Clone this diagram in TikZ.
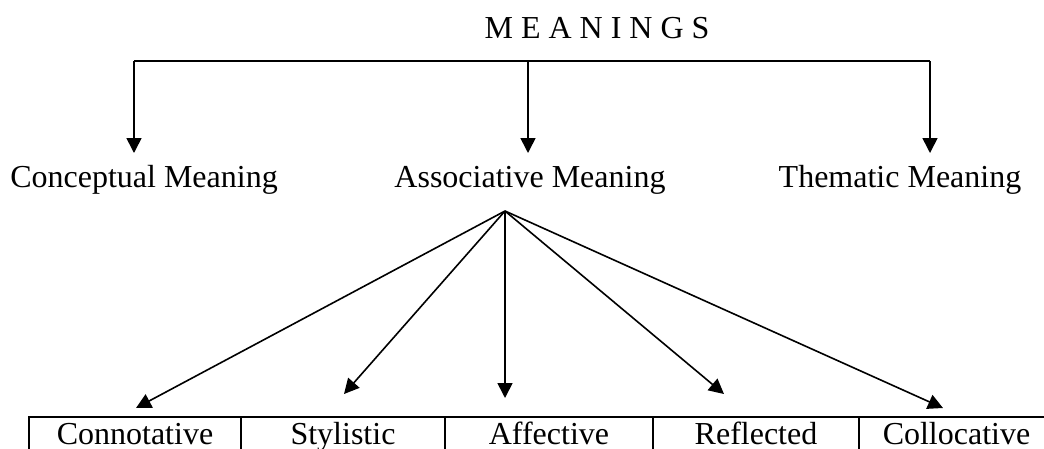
\documentclass[tikz,border=0pt]{standalone}
\usepackage{fontspec}
\setmainfont{Liberation Serif}
\usetikzlibrary{arrows.meta}

\begin{document}
\begin{tikzpicture}[x=1pt, y=-1pt, line width=1.6pt,
  every node/.style={font=\fontsize{32}{38}\selectfont},
  arr/.style={-{Triangle[length=15pt,width=15pt]}},
  kind/.style={inner sep=0pt, outer sep=12pt, text height=22pt, text depth=7pt},
  cell/.style={draw, line width=1.8pt, anchor=north, minimum height=45pt,
    inner sep=0pt, text height=22pt, text depth=11pt}]
\clip (0,0) rectangle (1044,448);

% top level
\node (title) at (597,28) {M E A N I N G S};
\node[kind] (concept) at (144,179.5) {Conceptual Meaning};
\node[kind] (assoc) at (530,179.5) {Associative Meaning};
\node[kind] (thematic) at (900,179.5) {Thematic Meaning};

\coordinate (barL) at (134,61);
\coordinate (barM) at (528,61);
\coordinate (barR) at (930,61);
\draw (barL) -- (barR);
\draw[arr] (barL) -- (barL |- concept.north);
\draw[arr] (barM) -- (barM |- assoc.north);
\draw[arr] (barR) -- (barR |- thematic.north);

% kinds of associative meaning
\node[cell, minimum width=212pt] (conno) at (135,416) {Connotative};
\node[cell, minimum width=204pt] (styl) at (343,416) {Stylistic};
\node[cell, minimum width=208pt] (affect) at (549,416) {Affective};
\node[cell, minimum width=206pt] (refl) at (756,416) {Reflected};
\node[cell, minimum width=195pt] (colloc) at (956.5,416) {Collocative};

\coordinate (fan) at (505,211);
\coordinate (conno tip) at (136,408);
\coordinate (styl tip) at (344,394);
\coordinate (affect tip) at (505,398);
\coordinate (refl tip) at (724,394);
\coordinate (colloc tip) at (943,408);
\foreach \k in {conno,styl,affect,refl,colloc}
  \draw[arr] (fan) -- (\k\space tip);
\end{tikzpicture}
\end{document}
